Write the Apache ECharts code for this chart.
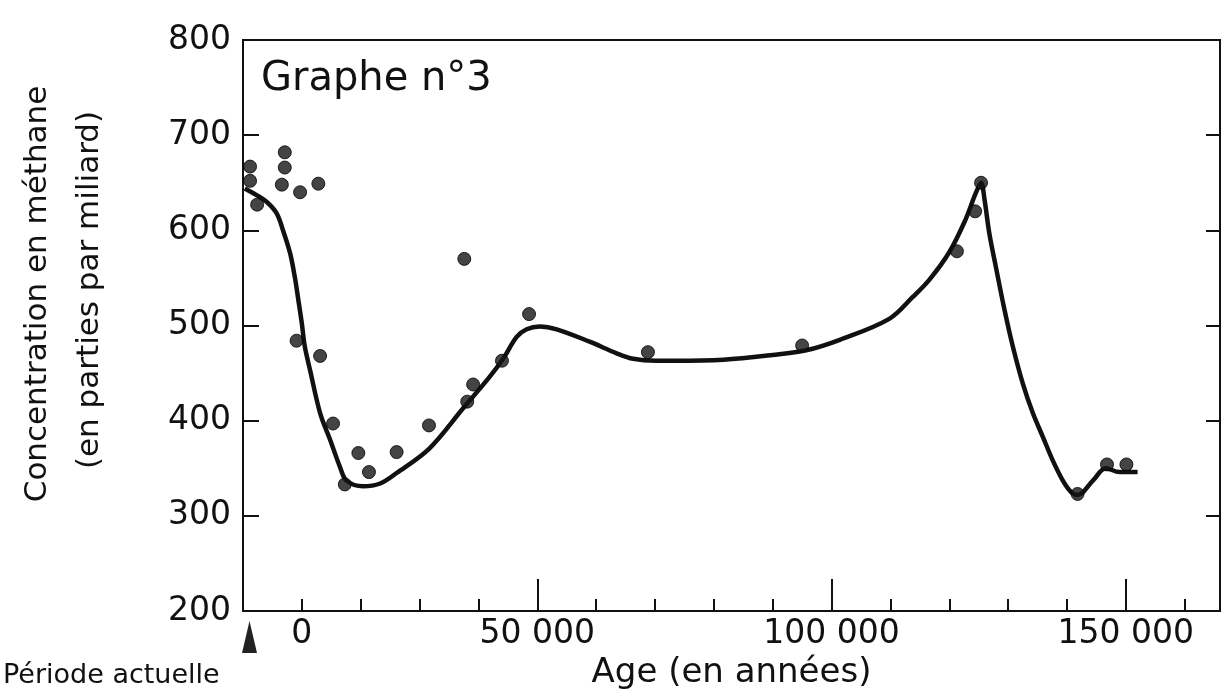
<!DOCTYPE html>
<html>
<head>
<meta charset="utf-8">
<script src="https://cdn.jsdelivr.net/npm/echarts@6/dist/echarts.min.js"></script>
<style>
html,body{margin:0;padding:0;background:#fff;}
#chart{width:1225px;height:699px;}
</style>
</head>
<body>
<div id="chart"></div>
<script>
// ---- data (age in years, methane in ppb) ----
const pointAge = [1200, 1200, 2400, 6600, 7100, 7100, 9700, 12800, 9100, 13100, 15300, 17300, 19600, 21400, 26100, 31600, 37600, 38100, 39100, 44000, 48600, 68800, 95000, 121300, 124400, 125400, 141800, 146800, 150100];
const pointCH4 = [667, 652, 627, 648, 682, 666, 640, 649, 484, 468, 397, 333, 366, 346, 367, 395, 570, 420, 438, 463, 512, 472, 479, 578, 620, 650, 323, 354, 354];

const curveAge = [300, 2300, 4000, 5700, 6800, 8000, 8800, 9400, 10000, 10500, 11400, 13100, 14800, 16500, 17600, 20400, 23300, 26100, 31700, 37400, 41900, 44200, 46500, 48200, 50400, 53300, 58900, 63400, 66300, 70200, 73100, 81600, 90000, 95700, 101400, 109800, 113800, 116600, 120000, 122600, 124500, 125400, 126000, 126800, 128000, 129400, 130800, 132500, 134200, 135900, 137600, 139300, 140700, 141800, 144400, 146600, 148900, 152000];
const curveCH4 = [644, 637, 630, 618, 600, 576, 551, 527, 502, 478, 453, 408, 380, 351, 337, 331, 334, 345, 371, 413, 446, 465, 488, 496, 499, 496, 483, 471, 465, 463, 463, 464, 469, 474, 485, 507, 530, 548, 577, 609, 639, 650, 632, 597, 559, 516, 478, 439, 408, 383, 358, 337, 325, 322, 337, 350, 346, 346];

const xTickValues = [10000, 50000, 100000, 150000];
const xTickTexts = ['0', '50 000', '100 000', '150 000'];
const yTickValues = [200, 300, 400, 500, 600, 700, 800];

const FONT = 'DejaVu Sans';
const INK = '#111';

const chart = echarts.init(document.getElementById('chart'));
const scatterData = pointAge.map((a, i) => [a, pointCH4[i]]);
const curveData = curveAge.map((a, i) => [a, curveCH4[i]]);

chart.setOption({
  animation: false,
  backgroundColor: '#fff',
  title: {
    text: 'Graphe n°3',
    left: 256, top: 55,
    textStyle: { fontFamily: FONT, fontSize: 40, fontWeight: 'normal', color: INK }
  },
  grid: { left: 243, right: 5, top: 40, bottom: 88, show: true, borderColor: INK, borderWidth: 2, backgroundColor: 'transparent' },
  xAxis: [
    {
      type: 'value', min: 0, max: 166000, interval: 10000,
      position: 'bottom',
      name: 'Age (en années)', nameLocation: 'middle', nameGap: 42,
      nameTextStyle: { fontFamily: FONT, fontSize: 34, color: INK },
      axisLine: { show: true, onZero: false, lineStyle: { color: INK, width: 2 } },
      axisTick: { show: true, inside: true, length: 12, lineStyle: { color: INK, width: 2 } },
      axisLabel: {
        fontFamily: FONT, fontSize: 33, color: INK, margin: 7, showMaxLabel: false,
        formatter: function (v) {
          const i = xTickValues.indexOf(v);
          return i >= 0 ? xTickTexts[i] : '';
        }
      },
      splitLine: { show: false }
    },
    {
      type: 'value', min: 0, max: 166000, interval: 50000,
      position: 'bottom',
      axisLine: { show: false, onZero: false },
      axisTick: { show: true, inside: true, length: 32, lineStyle: { color: INK, width: 2 } },
      axisLabel: { show: false },
      splitLine: { show: false }
    }
  ],
  yAxis: [
    {
      type: 'value', min: 200, max: 800, interval: 100,
      position: 'left',
      axisLine: { show: true, onZero: false, lineStyle: { color: INK, width: 2 } },
      axisTick: { show: true, inside: true, length: 16, lineStyle: { color: INK, width: 2 } },
      axisLabel: {
        fontFamily: FONT, fontSize: 33, color: INK, margin: 12,
        formatter: function (v) { return yTickValues.indexOf(v) >= 0 ? String(v) : ''; }
      },
      splitLine: { show: false }
    },
    {
      type: 'value', min: 200, max: 800, interval: 100,
      position: 'right',
      axisLine: { show: true, onZero: false, lineStyle: { color: INK, width: 2 } },
      axisTick: { show: true, inside: true, length: 14, lineStyle: { color: INK, width: 2 } },
      axisLabel: { show: false },
      splitLine: { show: false }
    }
  ],
  graphic: [
    { type: 'text', x: 38, y: 294, rotation: Math.PI / 2,
      style: { text: 'Concentration en méthane', textAlign: 'center', textVerticalAlign: 'middle', fontFamily: FONT, fontSize: 31, fill: INK } },
    { type: 'text', x: 90, y: 290, rotation: Math.PI / 2,
      style: { text: '(en parties par miliard)', textAlign: 'center', textVerticalAlign: 'middle', fontFamily: FONT, fontSize: 31, fill: INK } },
    { type: 'polygon', shape: { points: [[242, 653], [249.5, 621], [257, 653]] }, style: { fill: '#222' } },
    { type: 'text', x: 3, y: 676,
      style: { text: 'Période actuelle', textAlign: 'left', textVerticalAlign: 'middle', fontFamily: FONT, fontSize: 27, fill: INK } }
  ],
  series: [
    {
      type: 'line', data: curveData, xAxisIndex: 0, yAxisIndex: 0,
      smooth: 0.35, showSymbol: false, symbol: 'none',
      lineStyle: { color: INK, width: 4.5 }, z: 2
    },
    {
      type: 'scatter', data: scatterData, xAxisIndex: 0, yAxisIndex: 0,
      symbol: 'circle', symbolSize: 13,
      itemStyle: { color: '#151515', borderColor: '#000', borderWidth: 1 }, z: 3
    }
  ]
});
</script>
</body>
</html>
